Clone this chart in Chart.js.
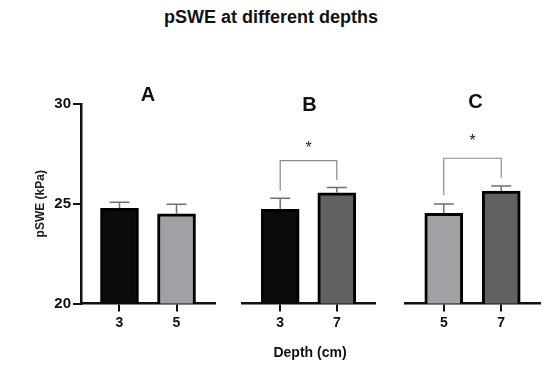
<!DOCTYPE html>
<html>
<head>
<meta charset="utf-8">
<script src="https://cdn.jsdelivr.net/npm/chart.js@4.4.0/dist/chart.umd.min.js"></script>
<style>
body { margin: 0; background: #fff; font-family: "Liberation Sans", Arial, sans-serif; }
#wrap { position: relative; width: 550px; height: 365px; }
canvas { position: absolute; left: 0; top: 0; }
.txt { position: absolute; font-weight: bold; color: #111; white-space: nowrap; transform: translateX(-50%); }
</style>
</head>
<body>
<div id="wrap">
  <div class="txt" style="left:271px;top:8px;font-size:18px;line-height:18px">pSWE at different depths</div>
  <canvas id="cA" width="550" height="365"></canvas>
  <canvas id="cB" width="550" height="365"></canvas>
  <canvas id="cC" width="550" height="365"></canvas>
  <div class="txt" style="left:310px;top:345px;font-size:14px;line-height:14px">Depth (cm)</div>
</div>
<script>
// data (kPa)
const panelNames = ['A', 'B', 'C']
const depthsA = ['3', '5']
const depthsB = ['3', '7']
const depthsC = ['5', '7']
const meansA = [24.77, 24.49]
const meansB = [24.72, 25.55]
const meansC = [24.52, 25.64]
const errA = [0.30, 0.48]
const errB = [0.55, 0.27]
const errC = [0.47, 0.25]
// significance brackets: [left leg end, top, right leg end], star level
const bracketB = [25.65, 27.16, 26.19]
const bracketC = [25.44, 27.28, 26.30]
const starB = 27.75
const starC = 28.12
const yTicks = [20, 25, 30]

const FONT = '"Liberation Sans", Arial, sans-serif'
const BLACK = '#0b0b0b', LIGHT = '#a0a1a4', DARK = '#606260'

const errorBars = {
  id: 'errorBars',
  afterDatasetsDraw(chart, args, opts) {
    const {ctx, scales: {x, y}} = chart
    ctx.save()
    ctx.strokeStyle = '#6f6f6f'
    ctx.lineWidth = 1.5
    opts.means.forEach((m, i) => {
      const px = x.getPixelForValue(i + 1)
      const top = y.getPixelForValue(m + opts.errs[i])
      ctx.beginPath()
      ctx.moveTo(px, y.getPixelForValue(m))
      ctx.lineTo(px, top)
      ctx.moveTo(px - 10, top)
      ctx.lineTo(px + 10, top)
      ctx.stroke()
    })
    ctx.restore()
  }
}

const bracket = {
  id: 'bracket',
  afterDraw(chart, args, opts) {
    if (!opts.legs) return
    const {ctx, scales: {x, y}} = chart
    const x1 = x.getPixelForValue(1), x2 = x.getPixelForValue(2)
    ctx.save()
    ctx.strokeStyle = '#8a8a8a'
    ctx.lineWidth = 1.2
    ctx.beginPath()
    ctx.moveTo(x1, y.getPixelForValue(opts.legs[0]))
    ctx.lineTo(x1, y.getPixelForValue(opts.legs[1]))
    ctx.lineTo(x2, y.getPixelForValue(opts.legs[1]))
    ctx.lineTo(x2, y.getPixelForValue(opts.legs[2]))
    ctx.stroke()
    ctx.fillStyle = '#222'
    ctx.font = '16px ' + FONT
    ctx.textAlign = 'center'
    ctx.textBaseline = 'middle'
    ctx.fillText('*', (x1 + x2) / 2, y.getPixelForValue(opts.star))
    ctx.restore()
  }
}

const panelLetter = {
  id: 'panelLetter',
  afterDraw(chart, args, opts) {
    const {ctx, chartArea} = chart
    ctx.save()
    ctx.fillStyle = '#111'
    ctx.font = 'bold 20px ' + FONT
    ctx.textAlign = 'center'
    ctx.textBaseline = 'middle'
    ctx.fillText(opts.text, (chartArea.left + chartArea.right) / 2 + opts.dx, opts.y)
    ctx.restore()
  }
}

function makePanel(id, name, depths, means, errs, colors, pad, showY, legs, star, letterY, letterDx) {
  new Chart(document.getElementById(id), {
    type: 'bar',
    data: {
      datasets: [{
        data: means.map((m, i) => ({x: i + 1, y: m})),
        backgroundColor: colors,
        borderColor: '#000',
        borderWidth: 3,
        barThickness: 38
      }]
    },
    options: {
      responsive: false,
      animation: false,
      layout: {padding: pad},
      plugins: {
        legend: {display: false},
        tooltip: {enabled: false},
        errorBars: {means: means, errs: errs},
        bracket: {legs: legs, star: star},
        panelLetter: {text: name, y: letterY, dx: letterDx}
      },
      scales: {
        x: {
          type: 'linear',
          offset: false,
          min: 0.325,
          max: 2.675,
          afterBuildTicks(s) { s.ticks = [1, 2].map(v => ({value: v})) },
          ticks: {
            callback: v => depths[v - 1],
            color: '#111',
            font: {family: FONT, size: 14, weight: 'bold'},
            padding: 3,
            maxRotation: 0
          },
          grid: {offset: false, drawOnChartArea: false, tickLength: 8, color: '#111', lineWidth: 2},
          border: {color: '#111', width: 2.5},
          afterFit(s) { s.height = 30 }
        },
        y: {
          display: showY,
          min: 20,
          max: 30,
          afterBuildTicks(s) { s.ticks = yTicks.map(v => ({value: v})) },
          ticks: {
            color: '#111',
            font: {family: FONT, size: 15, weight: 'bold'},
            padding: 2
          },
          grid: {drawOnChartArea: false, tickLength: 8, color: '#111', lineWidth: 2},
          border: {color: '#111', width: 2.5},
          title: {
            display: true,
            text: 'pSWE (kPa)',
            color: '#222',
            font: {family: FONT, size: 12, weight: 'bold'},
            padding: {top: 33, bottom: 0}
          },
          afterFit(s) { s.width = showY ? 81 : 0 }
        }
      }
    },
    plugins: [errorBars, bracket, panelLetter]
  })
}

makePanel('cA', panelNames[0], depthsA, meansA, errA, [BLACK, LIGHT],
  {top: 104, bottom: 31.5, left: 0, right: 335}, true, null, 0, 95, 0)
makePanel('cB', panelNames[1], depthsB, meansB, errB, [BLACK, DARK],
  {top: 104, bottom: 31.5, left: 242, right: 175}, false, bracketB, starB, 105, 1)
makePanel('cC', panelNames[2], depthsC, meansC, errC, [LIGHT, DARK],
  {top: 104, bottom: 31.5, left: 405, right: 10}, false, bracketC, starC, 102, 3)
</script>
</body>
</html>
